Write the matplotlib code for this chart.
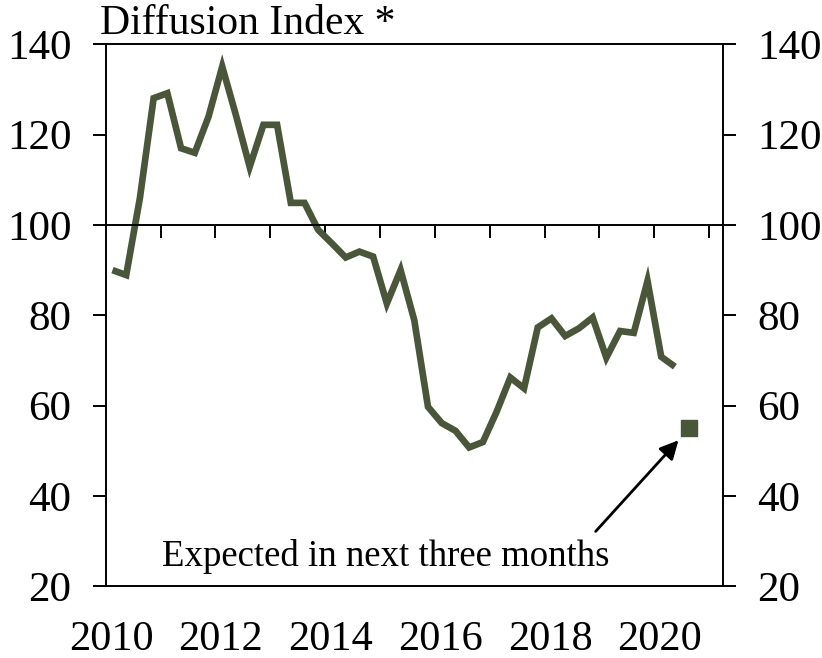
import matplotlib
matplotlib.use("Agg")
import matplotlib.pyplot as plt
import numpy as np

# quarterly readings, 2010 Q1 .. 2020 Q2
quarters = [f"{y}Q{q}" for y in range(2010, 2021) for q in range(1, 5)][:42]
index_values = [90.0, 88.9, 106.0, 128.1, 129.2, 117.0, 116.0, 124.0, 135.1, 124.3,
                112.9, 122.2, 122.2, 104.9, 104.9, 98.9, 95.9, 92.8, 94.1, 93.0,
                82.6, 90.0, 78.9, 59.7, 56.1, 54.4, 50.7, 51.9, 58.6, 66.2,
                63.8, 77.3, 79.3, 75.4, 77.1, 79.5, 70.6, 76.5, 76.1, 87.6,
                70.8, 68.6]
expected_quarter = "2020Q3"
expected_value = 55.0
year_labels = ["2010", "2012", "2014", "2016", "2018", "2020"]

line_color = "#4a5639"


def quarter_pos(label):
    # centre of the quarter on a continuous year scale
    return int(label[:4]) + (int(label[-1]) - 0.5) / 4


x = np.array([quarter_pos(q) for q in quarters])

plt.rcParams["font.family"] = ["Liberation Serif", "DejaVu Serif"]

fig = plt.figure(figsize=(8.22, 6.58), dpi=100)
ax = fig.add_axes([0.1285, 0.1094, 0.751, 0.823])

ax.plot(x, index_values, color=line_color, lw=4.8, solid_joinstyle="miter",
        solid_capstyle="butt")
ax.plot(quarter_pos(expected_quarter), expected_value, marker="s", ms=11,
        color=line_color, ls="none")

ax.set_xlim(2010, 2021.25)
ax.set_ylim(20, 140)

# x axis runs along 100, ticks each year pointing down
ax.spines["bottom"].set_position(("data", 100))
ax.axhline(20, color="black", lw=1.4, clip_on=False)
for s in ax.spines.values():
    s.set_linewidth(1.4)
ax.set_xticks(range(2011, 2022))
ax.tick_params(axis="x", direction="out", length=9.5, width=1.4, labelbottom=False)

ax.set_yticks(range(20, 141, 20))
ax.tick_params(axis="y", which="both", direction="out", length=9.5, width=1.4,
               labelsize=31, left=True, right=True, labelleft=True,
               labelright=True, pad=15)

for lab in year_labels:
    ax.text(int(lab) + 0.1, -0.1, lab, transform=ax.get_xaxis_transform(),
            ha="center", va="center", fontsize=30.5)

ax.annotate("", xy=(2020.44, 52.3), xytext=(2018.93, 32.1),
            arrowprops=dict(arrowstyle="-|>", color="black", lw=2,
                            mutation_scale=28, shrinkA=0, shrinkB=0))
ax.text(2015.1, 26.6, "Expected in next three months", ha="center", va="center",
        fontsize=26.5)

fig.text(100 / 822, 1 - 24 / 658, "Diffusion Index *", ha="left", va="center",
         fontsize=30)

fig.savefig("out.png", dpi=100)
